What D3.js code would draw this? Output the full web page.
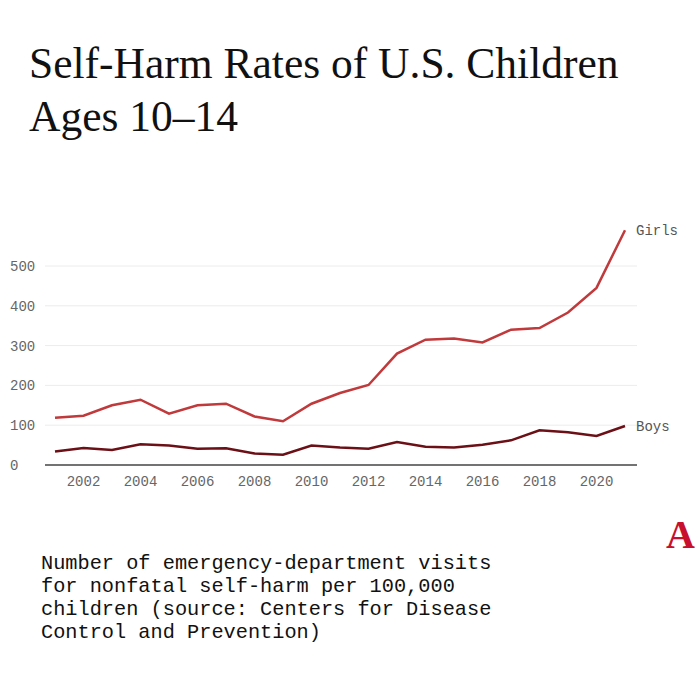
<!DOCTYPE html><html><head><meta charset="utf-8"><script src="https://cdn.jsdelivr.net/npm/d3@7"></script>
<style>body{margin:0;background:#fff}</style></head><body><svg id="c" width="700" height="700"></svg><script>
const years=[2001,2002,2003,2004,2005,2006,2007,2008,2009,2010,2011,2012,2013,2014,2015,2016,2017,2018,2019,2020,2021];
const girls=[119,124,150,164,129,150,154,122,110,154,181,201,280,315,318,308,340,344,383,445,590];
const boys=[34,43,38,52,49,41,42,29,26,49,44,41,58,46,44,51,62,87,82,73,98];
const yTicks=[0,100,200,300,400,500];
const xTicks=[2002,2004,2006,2008,2010,2012,2014,2016,2018,2020];
const svg=d3.select("#c");
svg.append("text").attr("x",29).attr("y",78).attr("font-family","Liberation Serif").attr("font-size",43.5).attr("fill","#111").text("Self-Harm Rates of U.S. Children");
svg.append("text").attr("x",29).attr("y",131).attr("font-family","Liberation Serif").attr("font-size",43.5).attr("fill","#111").text("Ages 10–14");
const x=d3.scaleLinear().domain([2001,2021]).range([55,625]);
const y=d3.scaleLinear().domain([0,500]).range([465,266]);
yTicks.forEach(t=>{
 if(t>0) svg.append("line").attr("x1",45).attr("x2",637).attr("y1",y(t)).attr("y2",y(t)).attr("stroke","#ececec");
 svg.append("text").attr("x",10).attr("y",y(t)+5).attr("font-family","Liberation Mono").attr("font-size",14).attr("fill","#666").text(t);
});
svg.append("line").attr("x1",45).attr("x2",637).attr("y1",y(0)).attr("y2",y(0)).attr("stroke","#444").attr("stroke-width",1.5);
xTicks.forEach(t=>svg.append("text").attr("x",x(t)).attr("y",486).attr("text-anchor","middle").attr("font-family","Liberation Mono").attr("font-size",14).attr("fill","#666").text(t));
const line=d3.line().x((d,i)=>x(years[i])).y(d=>y(d));
svg.append("path").datum(girls).attr("d",line).attr("fill","none").attr("stroke","#c0393b").attr("stroke-width",2.5);
svg.append("path").datum(boys).attr("d",line).attr("fill","none").attr("stroke","#6b1016").attr("stroke-width",2.5);
svg.append("text").attr("x",636).attr("y",y(590)+5).attr("font-family","Liberation Mono").attr("font-size",14).attr("fill","#555").text("Girls");
svg.append("text").attr("x",636).attr("y",y(98)+5).attr("font-family","Liberation Mono").attr("font-size",14).attr("fill","#555").text("Boys");
svg.append("text").attr("x",666).attr("y",548).attr("font-family","Liberation Serif").attr("font-weight","bold").attr("font-size",40).attr("fill","#c8102e").text("A");
["Number of emergency-department visits","for nonfatal self-harm per 100,000","children (source: Centers for Disease","Control and Prevention)"].forEach((s,i)=>
 svg.append("text").attr("x",41).attr("y",569+i*23).attr("font-family","Liberation Mono").attr("font-size",20.3).attr("fill","#111").text(s));
</script></body></html>
